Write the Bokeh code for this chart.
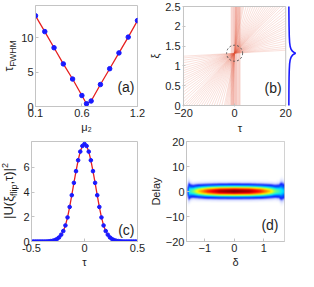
import numpy as np
from bokeh.plotting import figure
from bokeh.models import Range1d, FixedTicker, Label, LinearColorMapper, Title, Div
from bokeh.layouts import column, row
from bokeh.embed import file_html
from bokeh.resources import INLINE

FONT = "Liberation Sans"

# ---------------- data: panel (a) ----------------
mu2 = [0.1, 0.2, 0.3, 0.4, 0.5, 0.6, 0.65, 0.7, 0.8, 0.9, 1.0, 1.1, 1.2]
tau_fwhm = [13.2, 10.9, 8.55, 6.2, 4.0, 1.6, 0.4, 0.8, 3.2, 5.5, 7.8, 10.1, 12.5]
a_xticks = [0.1, 0.6, 1.2]
a_xlabels = ["0.1", "0.6", "1.2"]
a_yticks = [0, 5, 10]

# ---------------- data: panel (b) ----------------
xi_flip = 1.32
ray_tau0 = [-0.4, -0.8, -1.2, -1.6, -2.0, -2.5, -3, -3.5, -4, -5, -6, -7, -8, -9,
            -10, -11, -12, -13, -14, -15, -16, -17, -18, -19, -20, -21.5, -23,
            -25, -27, -29.5, -32, -35, -38.5, -42, -47, -53, -60, -70, -85,
            -110, -150, -220, -350]
band_tau = [-1.3, -0.9, -0.5, -0.2, 0.1, 0.4, 0.7, 1.0, 1.4, 1.8, 2.1]
prof_xi = [0, 0.4, 0.7, 0.9, 1.05, 1.15, 1.22, 1.27, 1.30, 1.32, 1.34, 1.37,
           1.42, 1.49, 1.59, 1.75, 2.0, 2.3, 2.5]
prof_amp = [0.03, 0.04, 0.06, 0.09, 0.14, 0.22, 0.35, 0.55, 0.8, 1.0, 0.8, 0.55,
            0.35, 0.22, 0.14, 0.09, 0.06, 0.04, 0.03]
b_xticks = [-20, 0, 20]
b_yticks = [0, 0.5, 1, 1.5, 2, 2.5]
b_ylabels = ["0", "0.5", "1", "1.5", "2", "2.5"]

# ---------------- data: panel (c) ----------------
tau_c = [-0.5, -0.48, -0.46, -0.44, -0.42, -0.4, -0.38, -0.36, -0.34, -0.32,
         -0.3, -0.28, -0.26, -0.24, -0.22, -0.2, -0.18, -0.16, -0.14, -0.12,
         -0.1, -0.08, -0.06, -0.04, -0.02, 0.0, 0.02, 0.04, 0.06, 0.08, 0.1,
         0.12, 0.14, 0.16, 0.18, 0.2, 0.22, 0.24, 0.26, 0.28, 0.3, 0.32, 0.34,
         0.36, 0.38, 0.4, 0.42, 0.44, 0.46, 0.48, 0.5]
U2 = [0, 0, 0, 0, 0, 0, 0, 0.005, 0.015, 0.03, 0.06, 0.11, 0.2, 0.33, 0.55,
      0.85, 1.3, 1.95, 2.8, 3.75, 4.75, 5.7, 6.58, 7.28, 7.74, 7.9, 7.74, 7.28,
      6.58, 5.7, 4.75, 3.75, 2.8, 1.95, 1.3, 0.85, 0.55, 0.33, 0.2, 0.11, 0.06,
      0.03, 0.015, 0.005, 0, 0, 0, 0, 0, 0, 0]
c_xticks = [-0.5, 0, 0.5]
c_xlabels = ["-0.5", "0", "0.5"]
c_yticks = [0, 2, 4, 6]

# ---------------- data: panel (d) ----------------
d_delta = [-1.62, -1.58, -1.54, -1.48, -1.4, -1.2, -0.9, -0.5, 0.0, 0.5, 0.9,
           1.2, 1.4, 1.52, 1.6, 1.7]
d_peak = [0.0, 0.15, 0.35, 0.4, 0.45, 0.62, 0.8, 0.95, 1.0, 0.95, 0.8, 0.62,
          0.45, 0.4, 0.35, 0.3]
d_width = [2.0, 3.2, 2.8, 2.2, 2.0, 2.0, 2.0, 2.0, 2.0, 2.0, 2.0, 2.0, 2.0,
           2.2, 3.0, 2.6]
d_xticks = [-1, 0, 1]
d_yticks = [-20, -10, 0, 10, 20]

GRAY = "#c4c4c4"
TXT = "#1e1e1e"
TICK_FS = "11px"
LAB_FS = "11px"


def make_fig(w, h, l, r, t, b, xr, yr):
    p = figure(width=w, height=h, x_range=xr, y_range=yr, output_backend="svg",
               toolbar_location=None, tools="", title=None,
               min_border_left=l, min_border_right=r, min_border_top=t,
               min_border_bottom=b)
    p.outline_line_color = GRAY
    p.grid.visible = False
    p.background_fill_color = "white"
    p.border_fill_color = "white"
    for ax in p.axis:
        ax.axis_line_color = GRAY
        ax.major_tick_line_color = GRAY
        ax.major_tick_in = 3
        ax.major_tick_out = 0
        ax.minor_tick_line_color = None
        ax.major_label_text_font = FONT
        ax.major_label_text_font_size = TICK_FS
        ax.major_label_text_color = TXT
        ax.major_label_standoff = 2
        ax.axis_label_standoff = 1
        ax.axis_label_text_font = FONT
        ax.axis_label_text_font_size = LAB_FS
        ax.axis_label_text_font_style = "normal"
        ax.axis_label_text_color = TXT
    return p


def vlabel_div(w, h, xc, yc, html, size):
    inner = ('<div style="position:relative;width:%dpx;height:%dpx;overflow:visible;">'
             '<div style="position:absolute;left:%.1fpx;top:%.1fpx;'
             'transform:translate(-50%%,-50%%) rotate(-90deg);white-space:nowrap;'
             "font-family:'%s';font-size:%s;color:%s;line-height:1;\">%s</div></div>"
             % (w, h, xc, yc, FONT, size, TXT, html))
    return Div(text=inner, width=w, height=h, margin=(0, 0, 0, 0))


def lab(p, text, x, y, xo=0, yo=0, size="14px", align="right", base="bottom"):
    p.add_layout(Label(x=x, y=y, x_offset=xo, y_offset=yo, text=text,
                       text_font=FONT, text_font_size=size, text_color=TXT,
                       text_align=align, text_baseline=base))


SW = 18
TOP_H, BOT_H = 136, 135

# ---------------- panel (a) ----------------
a_xr = Range1d(0.1, 1.2)
a_yr = Range1d(0, 14.7)
pa = make_fig(128, TOP_H, 13, 9, 5, 30, a_xr, a_yr)
pa.xaxis.ticker = FixedTicker(ticks=a_xticks)
pa.xaxis.major_label_overrides = dict(zip(a_xticks, a_xlabels))
pa.yaxis.ticker = FixedTicker(ticks=a_yticks)
pa.xaxis.axis_label = "μ₂"
pa.line(mu2, tau_fwhm, line_color="#e62020", line_width=1.3)
pa.scatter(mu2, tau_fwhm, size=4.5, fill_color="#1a1aff", line_color="#1a1aff")
lab(pa, "(a)", a_xr.end, a_yr.start, xo=-3, yo=12)

sa = vlabel_div(SW, TOP_H, 10, 5 + 50.5,
                'τ<sub style="font-size:8.5px;">FWHM</sub>', "12px")

# ---------------- panel (b) ----------------
BOX_W = 104
BOX_H = 99
EXTRA = 12
PAD = 1
tau_lo, tau_hi = b_xticks[0], b_xticks[-1]
xi_lo, xi_hi = b_yticks[0], b_yticks[-1]
px_tau = (tau_hi - tau_lo) / BOX_W
px_xi = (xi_hi - xi_lo) / BOX_H
FW = PAD + BOX_W + EXTRA
b_xr = Range1d(tau_lo - PAD * px_tau, tau_hi + EXTRA * px_tau)
b_yr = Range1d(xi_lo - PAD * px_xi, xi_hi + PAD * px_xi)
pb = make_fig(34 + FW + 1, TOP_H, 34, 1, 5, 30, b_xr, b_yr)
pb.outline_line_color = None
pb.xaxis.axis_line_color = None
pb.yaxis.axis_line_color = None
pb.xaxis.ticker = FixedTicker(ticks=b_xticks)
pb.yaxis.ticker = FixedTicker(ticks=b_yticks)
pb.yaxis.major_label_overrides = dict(zip(b_yticks, b_ylabels))
pb.yaxis.axis_label = "ξ"

xs, ys = [], []
for d in ray_tau0:
    if d >= tau_lo:
        p0 = (d, xi_lo)
    else:
        p0 = (tau_lo, xi_flip * (1 - tau_lo / d))
    t_top = d * (1 - xi_hi / xi_flip)
    if t_top <= tau_hi:
        p1 = (t_top, xi_hi)
    else:
        p1 = (tau_hi, xi_flip * (1 - tau_hi / d))
    xs.append([p0[0], p1[0]])
    ys.append([p0[1], p1[1]])
pb.multi_line(xs, ys, line_color="#e4583e", line_alpha=0.18, line_width=1)
pb.multi_line([[t, t] for t in band_tau], [[xi_lo, xi_hi] for _ in band_tau],
              line_color="#e4583e", line_alpha=0.22, line_width=1.2)
pb.scatter([0], [xi_flip], size=16, marker="circle", fill_color=None,
           line_color="#555555", line_dash="2 2", line_width=1)
pb.quad(left=[tau_lo], right=[tau_hi], bottom=[xi_lo], top=[xi_hi],
        fill_color=None, line_color=GRAY, line_width=1)
f0 = (PAD + BOX_W + 3) / FW
f1 = (PAD + BOX_W + 10) / FW
span = 1.0 / (f1 - f0)
pb.extra_x_ranges = {"prof": Range1d(-f0 * span, -f0 * span + span)}
pb.line(prof_amp, prof_xi, x_range_name="prof", line_color="#1a1aff", line_width=1.6)
pb.add_layout(Title(text="τ", align="center", offset=-(FW / 2 - PAD - BOX_W / 2),
                    text_font=FONT, text_font_size=LAB_FS, text_font_style="normal",
                    text_color=TXT, standoff=0), "below")
lab(pb, "(b)", tau_hi, xi_lo, xo=-4, yo=10)

# ---------------- panel (c) ----------------
c_xr = Range1d(-0.5, 0.5)
c_yr = Range1d(0, 8.1)
pc = make_fig(128, BOT_H, 13, 9, 5, 30, c_xr, c_yr)
pc.xaxis.ticker = FixedTicker(ticks=c_xticks)
pc.xaxis.major_label_overrides = dict(zip(c_xticks, c_xlabels))
pc.yaxis.ticker = FixedTicker(ticks=c_yticks)
pc.xaxis.axis_label = "τ"
pc.line(tau_c, U2, line_color="#e62020", line_width=1.3)
pc.scatter(tau_c, U2, size=3.6, fill_color="#1a1aff", line_color="#1a1aff")
lab(pc, "(c)", c_xr.end, c_yr.start, xo=-3, yo=4)

sc = vlabel_div(SW, BOT_H, 10, 5 + 50,
                '|U(ξ<sub style="font-size:9px;">flip</sub>,τ)|'
                '<sup style="font-size:9px;">2</sup>', "13px")

# ---------------- panel (d) ----------------
d_xr = Range1d(d_delta[0], d_delta[-1])
d_yr = Range1d(d_yticks[0], d_yticks[-1])
pd_ = make_fig(152, BOT_H, 34, 14, 5, 30, d_xr, d_yr)
pd_.xaxis.ticker = FixedTicker(ticks=d_xticks)
pd_.yaxis.ticker = FixedTicker(ticks=d_yticks)
pd_.xaxis.axis_label = "δ"
pd_.yaxis.axis_label = "Delay"

nx, ny = 260, 200
gx = np.linspace(d_xr.start, d_xr.end, nx)
gy = np.linspace(d_yr.start, d_yr.end, ny)
A = np.interp(gx, d_delta, d_peak)
Wd = np.interp(gx, d_delta, d_width)
img = A[None, :] * np.exp(-(gy[:, None] / Wd[None, :]) ** 2)

anchors = [(0.0, "#ffffff"), (0.05, "#c4ccff"), (0.12, "#1424ff"), (0.22, "#0060ff"),
           (0.33, "#00e8ff"), (0.45, "#70ff80"), (0.56, "#ffff00"), (0.70, "#ff8000"),
           (0.84, "#ff0000"), (1.0, "#800000")]


def hex2rgb(h):
    return [int(h[i:i + 2], 16) for i in (1, 3, 5)]


pos = [a[0] for a in anchors]
rgb = np.array([hex2rgb(a[1]) for a in anchors], dtype=float)
pal = []
for s_ in np.linspace(0, 1, 256):
    c = [int(round(np.interp(s_, pos, rgb[:, k]))) for k in range(3)]
    pal.append("#%02x%02x%02x" % tuple(c))
cmap = LinearColorMapper(palette=pal, low=0, high=1)
pd_.image(image=[img], x=d_xr.start, y=d_yr.start, dw=d_xr.end - d_xr.start,
          dh=d_yr.end - d_yr.start, color_mapper=cmap)
lab(pd_, "(d)", d_xr.end, d_yr.start, xo=-6, yo=9)

layout = column(row(sa, pa, pb), row(sc, pc, pd_))
open("out.html", "w").write(file_html(layout, INLINE))
